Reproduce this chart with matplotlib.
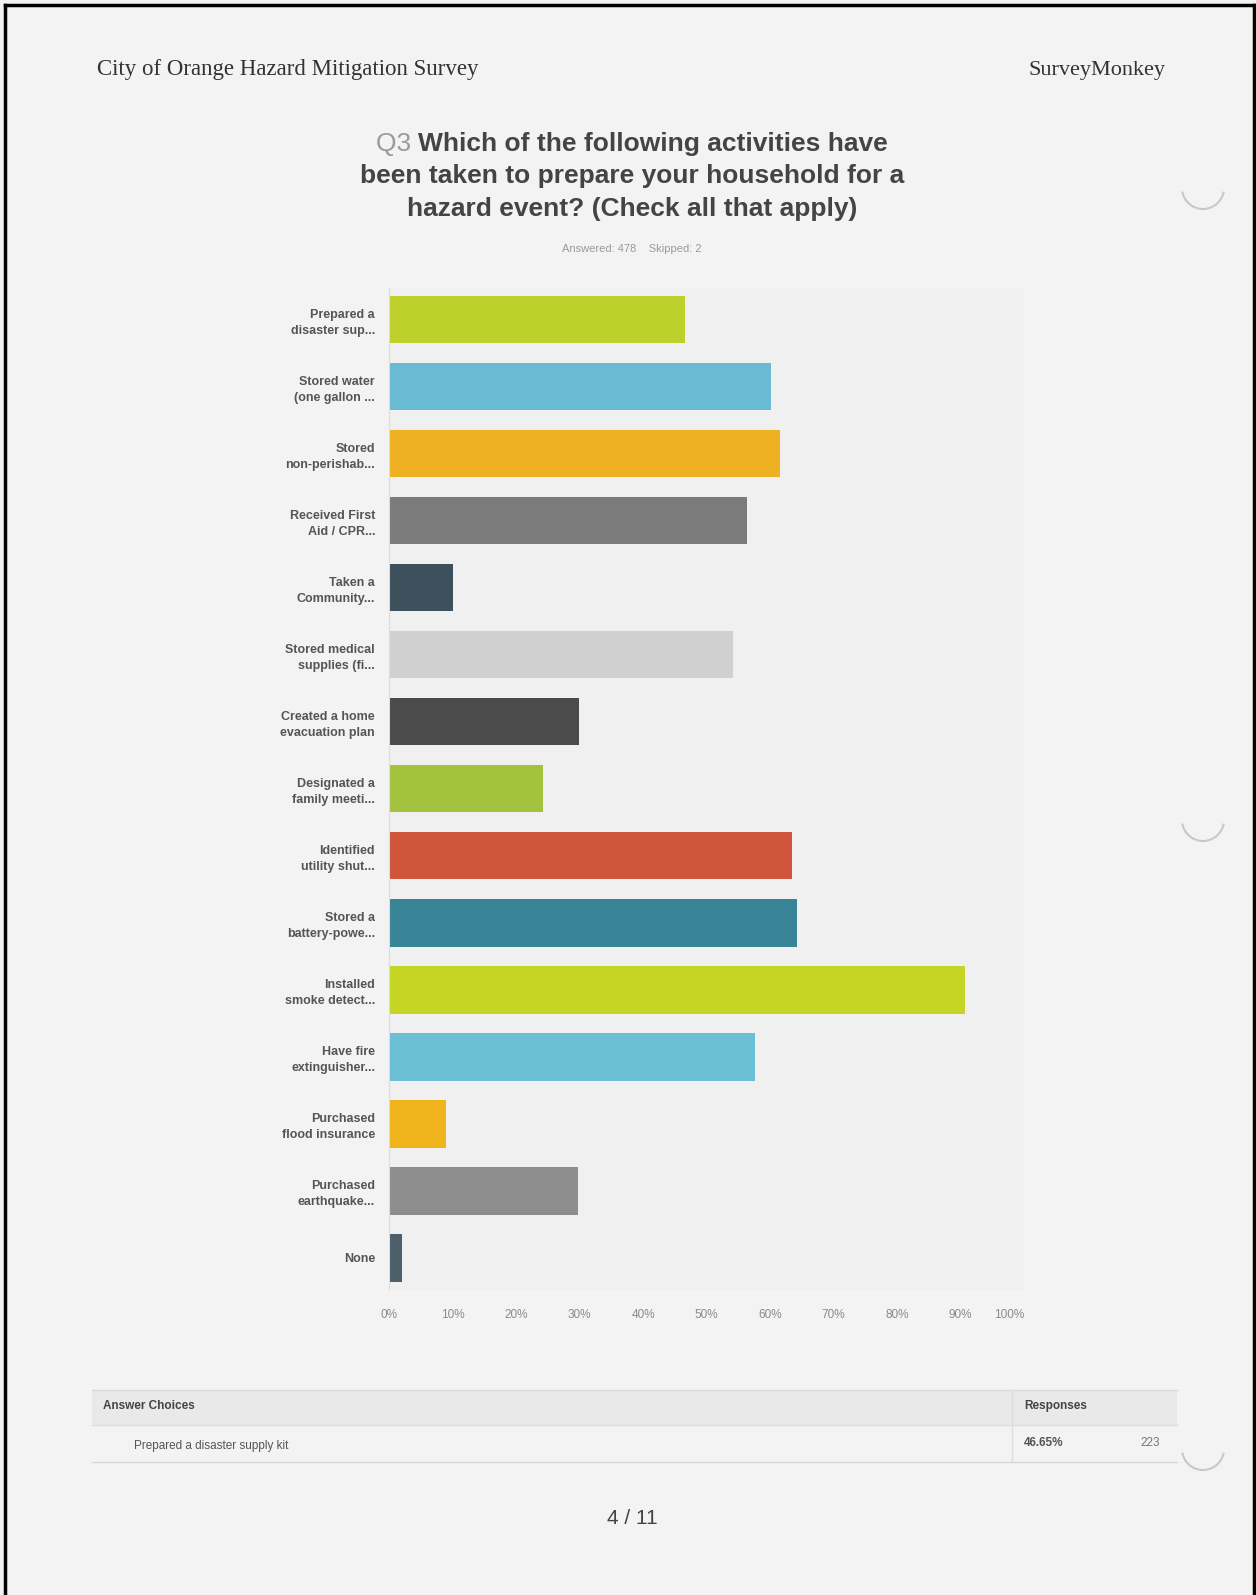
import matplotlib
matplotlib.use("Agg")
import matplotlib.pyplot as plt
from matplotlib.patches import Arc, Rectangle

# ---- data ----
labels = ["Prepared a\ndisaster sup...", "Stored water\n(one gallon ...", "Stored\nnon-perishab...",
          "Received First\nAid / CPR...", "Taken a\nCommunity...", "Stored medical\nsupplies (fi...",
          "Created a home\nevacuation plan", "Designated a\nfamily meeti...", "Identified\nutility shut...",
          "Stored a\nbattery-powe...", "Installed\nsmoke detect...", "Have fire\nextinguisher...",
          "Purchased\nflood insurance", "Purchased\nearthquake...", "None"]
pct = [46.65, 60.2, 61.5, 56.3, 10.0, 54.2, 29.9, 24.2, 63.5, 64.3, 90.7, 57.7, 9.0, 29.8, 2.1]
colors = ["#bdd02c", "#68bbd2", "#efb121", "#7b7b7b", "#3f505d", "#d0d0d0", "#4b4b4b", "#a3c23d",
          "#d1553a", "#3a8497", "#c5d524", "#6bbfd5", "#f1b41d", "#8e8e8e", "#4d5f6b"]
xticks = [0, 10, 20, 30, 40, 50, 60, 70, 80, 90, 100]

W, H = 1256, 1595
fig = plt.figure(figsize=(W / 100, H / 100), dpi=100, facecolor="#f3f3f3")

# page layer in pixel coords
page = fig.add_axes([0, 0, 1, 1])
page.set_xlim(0, W)
page.set_ylim(H, 0)
page.axis("off")
page.plot([5, 5], [5, H], color="black", lw=2.5)
page.plot([5, 1254], [5, 5], color="black", lw=2.5)
page.plot([1254, 1254], [5, H], color="black", lw=2.5)

serif = ["Liberation Serif", "DejaVu Serif"]
sans = ["Liberation Sans", "DejaVu Sans"]
page.text(97, 70, "City of Orange Hazard Mitigation Survey", fontsize=16.5, family=serif,
          color="#333333", va="center", ha="left")
page.text(1166, 70, "SurveyMonkey", fontsize=16, family=serif, color="#333333", va="center", ha="right")

# title, first line has a grey "Q3" in front
renderer = fig.canvas.get_renderer()
q3 = page.text(0, 144, "Q3 ", fontsize=19, family=sans, color="#9a9a9a", va="center", ha="left")
rest = page.text(0, 144, "Which of the following activities have", fontsize=19, family=sans,
                 weight="bold", color="#444444", va="center", ha="left")
wq = q3.get_window_extent(renderer).width
wr = rest.get_window_extent(renderer).width
start = 632 - (wq + wr) / 2
q3.set_x(start)
rest.set_x(start + wq)
page.text(632, 176, "been taken to prepare your household for a", fontsize=19, family=sans,
          weight="bold", color="#444444", va="center", ha="center")
page.text(632, 209, "hazard event? (Check all that apply)", fontsize=19, family=sans,
          weight="bold", color="#444444", va="center", ha="center")
page.text(632, 249, "Answered: 478    Skipped: 2", fontsize=8, family=sans, color="#9a9a9a",
          va="center", ha="center")

# table at the bottom
page.add_patch(Rectangle((92, 1390), 1085, 35, facecolor="#e9e9e9", edgecolor="none"))
page.plot([92, 1177], [1390, 1390], color="#d8d8d8", lw=1)
page.plot([92, 1177], [1425, 1425], color="#dcdcdc", lw=1)
page.plot([92, 1177], [1462, 1462], color="#d8d8d8", lw=1)
page.plot([1012, 1012], [1390, 1462], color="#dddddd", lw=1)
page.text(103, 1406, "Answer Choices", fontsize=8.5, family=sans, weight="bold", color="#444444", va="center")
page.text(1024, 1406, "Responses", fontsize=8.5, family=sans, weight="bold", color="#444444", va="center")
page.text(134, 1446, "Prepared a disaster supply kit", fontsize=8.5, family=sans, color="#555555", va="center")
page.text(1024, 1443, "46.65%", fontsize=8.5, family=sans, weight="bold", color="#555555", va="center")
page.text(1160, 1443, "223", fontsize=8.5, family=sans, color="#777777", va="center", ha="right")

page.text(632, 1518, "4 / 11", fontsize=15, family=sans, color="#444444", va="center", ha="center")

# binder hole marks on the right edge
for cy in [188, 820, 1449]:
    page.add_patch(Arc((1203, cy), 42, 42, theta1=10, theta2=170, color="#c8c8c8", lw=1.5))

# chart
x0, x1, y0, y1 = 389, 1024, 288, 1290
ax = fig.add_axes([x0 / W, 1 - y1 / H, (x1 - x0) / W, (y1 - y0) / H])
ax.set_facecolor("#f0f0f0")
ypos = list(range(len(labels)))
ax.barh(ypos, pct, height=0.71, color=colors, edgecolor="none")
ax.set_xlim(0, 100)
ax.set_ylim(14.48, -0.47)
ax.set_yticks(ypos)
ax.set_yticklabels(labels, fontsize=9, family=sans, weight="bold", color="#555555", linespacing=1.45)
ax.set_xticks(xticks)
ax.set_xticklabels([f"{t}%" for t in xticks], fontsize=8.5, family=sans, color="#8a8a8a")
ax.get_xticklabels()[-1].set_ha("right")
ax.tick_params(axis="both", length=0)
ax.tick_params(axis="x", pad=14)
ax.tick_params(axis="y", pad=10)
for s in ["top", "right", "bottom"]:
    ax.spines[s].set_visible(False)
ax.spines["left"].set_color("#dddddd")

fig.savefig("out.png", dpi=100, facecolor=fig.get_facecolor())
